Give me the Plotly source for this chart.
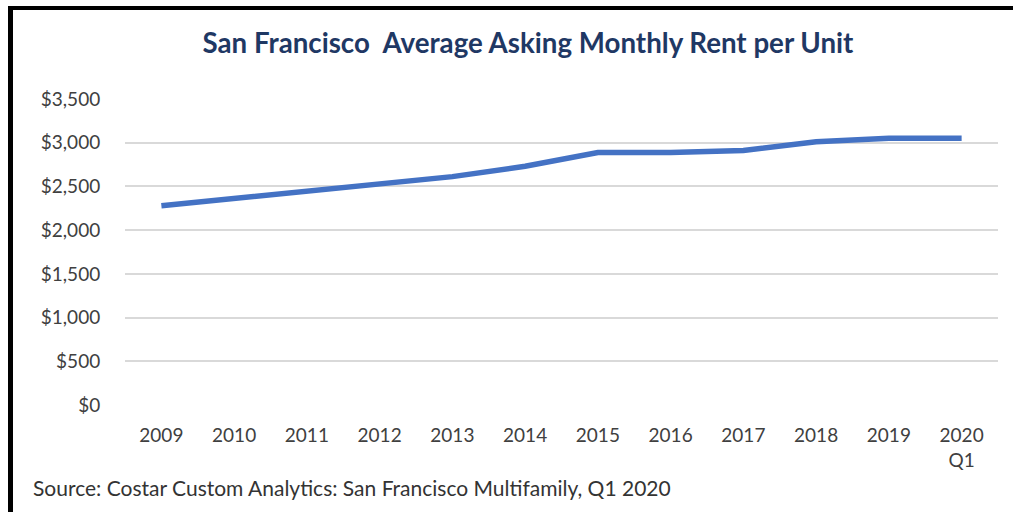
import plotly.graph_objects as go

years = ["2009", "2010", "2011", "2012", "2013", "2014", "2015", "2016", "2017", "2018", "2019", "2020<br>Q1"]
rent = [2280, 2365, 2440, 2520, 2612, 2730, 2888, 2888, 2910, 3010, 3050, 3050]
y_ticks = [0, 500, 1000, 1500, 2000, 2500, 3000, 3500]
y_labels = ["$0", "$500", "$1,000", "$1,500", "$2,000", "$2,500", "$3,000", "$3,500"]

W, H = 1013, 512
ML, MR, MT, MB = 125, 15, 99, 107
PW, PH = W - ML - MR, H - MT - MB

def px_x(x):
    return (x - ML) / PW

def px_y(y):
    return (H - MB - y) / PH

FONT = "Lato"

fig = go.Figure()
fig.add_trace(go.Scatter(
    x=years, y=rent, mode="lines",
    line=dict(color="#4472C4", width=5.5),
    hoverinfo="skip", showlegend=False,
))

fig.update_layout(
    width=W, height=H,
    margin=dict(l=ML, r=MR, t=MT, b=MB),
    paper_bgcolor="white", plot_bgcolor="white",
    title=dict(
        text="<b>San Francisco  Average Asking Monthly Rent per Unit</b>",
        x=px_x(528), xref="paper", xanchor="center",
        y=1 - 43 / H, yref="container", yanchor="middle",
        font=dict(family=FONT, size=27.7, color="#1F3864"),
    ),
    xaxis=dict(
        type="category", range=[-0.5, len(years) - 0.5],
        showgrid=False, zeroline=False, showline=False,
        ticks="outside", ticklen=13, tickcolor="rgba(0,0,0,0)",
        tickfont=dict(family=FONT, size=19, color="#404040"),
    ),
    yaxis=dict(
        range=[0, 3500], tickvals=y_ticks, ticktext=y_labels,
        showgrid=True, gridcolor="#D9D9D9", gridwidth=1.5,
        zeroline=False, showline=False,
        ticks="outside", ticklen=20, tickcolor="rgba(0,0,0,0)",
        tickfont=dict(family=FONT, size=19, color="#404040"),
    ),
    annotations=[dict(
        text="Source: Costar Custom Analytics: San Francisco Multifamily, Q1 2020",
        xref="paper", yref="paper", x=px_x(31), y=px_y(487),
        xanchor="left", yanchor="middle", showarrow=False,
        font=dict(family=FONT, size=21, color="#333333"),
    )],
    shapes=[
        dict(type="line", xref="paper", yref="paper",
             x0=px_x(8), x1=px_x(1013), y0=px_y(8), y1=px_y(8),
             line=dict(color="black", width=4)),
        dict(type="line", xref="paper", yref="paper",
             x0=px_x(10.5), x1=px_x(10.5), y0=px_y(6), y1=px_y(512),
             line=dict(color="black", width=5)),
    ],
)

fig.write_html(
    "out.html",
    config={"displayModeBar": False},
    post_script="document.body.style.margin='0';document.body.style.overflow='hidden';",
)
